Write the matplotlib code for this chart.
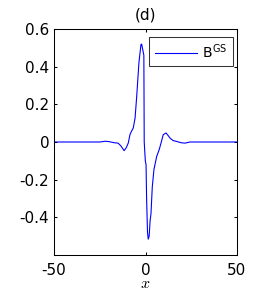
import numpy as np
import matplotlib
matplotlib.use("Agg")
import matplotlib.pyplot as plt

plt.rcParams['font.family'] = ['DejaVu Sans']
plt.rcParams['mathtext.fontset'] = 'cm'

# B^GS profile
x = [-50, -30, -25, -22, -20, -17, -15, -13.5, -11.7, -10.5, -9.4, -8.5, -7.5,
     -6.7, -5.7, -4.8, -3.6, -2.5, -2.1, -1.5, -0.9, -0.7, -0.1, 0.3, 0.6, 1.1,
     1.5, 2.0, 2.5, 3.0, 3.7, 4.6, 6.1, 7.5, 8.5, 9.7, 11.2, 12.3, 13.4, 15,
     17, 19.5, 21.6, 24.3, 30, 50]
b_gs = [0, 0, 0, 0.004, 0.002, -0.004, -0.006, -0.02, -0.046, -0.03, -0.005,
        0.039, 0.06, 0.074, 0.127, 0.243, 0.42, 0.517, 0.52, 0.49, 0.46, 0.0,
        -0.1, -0.12, -0.3, -0.48, -0.516, -0.5, -0.42, -0.38, -0.24, -0.147,
        -0.077, -0.04, -0.005, 0.039, 0.048, 0.035, 0.021, 0.008, 0.003,
        -0.004, -0.006, 0, 0, 0]

xticks = [-50, 0, 50]
yticks = [-0.4, -0.2, 0, 0.2, 0.4, 0.6]

fig = plt.figure(figsize=(2.63, 3.01), dpi=100)
ax = fig.add_axes([54 / 263, 46 / 301, 183 / 263, 226 / 301])

ax.plot(x, b_gs, color='blue', lw=0.8, label=r'B$^{\mathregular{GS}}$')

ax.set_xlim(-50, 50)
ax.set_ylim(-0.6, 0.6)
ax.set_xticks(xticks)
ax.set_yticks(yticks)
ax.set_yticklabels(['-0.4', '-0.2', '0', '0.2', '0.4', '0.6'])
ax.set_xticklabels(['-50', '0', '50'])

ax.tick_params(direction='in', length=2.5, width=0.75, top=True, right=True,
               labelsize=11)
ax.tick_params(axis='x', pad=5.5)
ax.tick_params(axis='y', pad=3.5)
for s in ax.spines.values():
    s.set_linewidth(0.75)

ax.set_title('(d)', fontsize=11, pad=7)
ax.set_xlabel(r'$x$', fontsize=11.5, labelpad=-1)

leg = ax.legend(loc='upper right', bbox_to_anchor=(0.978, 0.966),
                borderaxespad=0, fancybox=False, edgecolor='black',
                fontsize=10, handlelength=3.0, handletextpad=0.4,
                borderpad=0.4)
leg.get_frame().set_linewidth(0.75)

fig.savefig('out.png', dpi=100)
